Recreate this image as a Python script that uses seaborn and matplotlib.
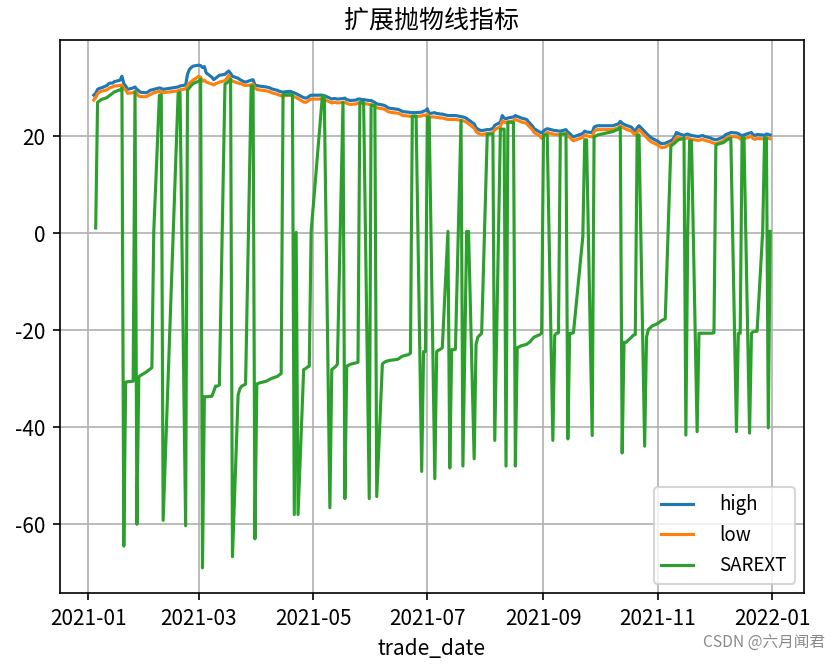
import numpy as np
import pandas as pd
import matplotlib
matplotlib.use("Agg")
import matplotlib.pyplot as plt
import seaborn as sns

nan = np.nan

# trading calendar (Shanghai exchange 2021)
holidays = ["2021-01-01", "2021-02-11", "2021-02-12", "2021-02-15", "2021-02-16",
            "2021-02-17", "2021-04-05", "2021-05-03", "2021-05-04", "2021-05-05",
            "2021-06-14", "2021-09-20", "2021-09-21", "2021-10-01", "2021-10-04",
            "2021-10-05", "2021-10-06", "2021-10-07"]
trade_date = pd.bdate_range("2021-01-04", "2021-12-31", freq="C", holidays=holidays)

high_jan = [28.5, 28.9, 29.7, 29.9, 30.0, 30.5, 30.9, 31.0, 31.0, 31.3, 31.6, 32.4, 30.9, 30.4, 29.7, 30.0, 30.2, 29.7, 29.4, 29.1]
low_jan = [27.5, 28.0, 28.8, 29.1, 29.3, 29.6, 29.9, 30.1, 30.2, 30.4, 30.5, 30.6, 29.8, 29.6, 28.9, 29.0, 29.3, 28.8, 28.3, 28.2]
sar_jan = [nan, 1.1, 27.0, 27.3, 27.6, 28.0, 28.3, 28.6, 28.9, 29.2, 29.6, 30.0, -64.5, -30.7, -30.6, -30.5, 29.2, -60.0, -29.6, -29.3]

high_feb = [29.0, 29.2, 29.5, 29.6, 29.7, 30.0, 29.9, 29.7, 30.2, 30.4, 30.6, 32.8, 33.8, 34.2, 34.5]
low_feb = [28.2, 28.4, 28.6, 28.8, 29.0, 29.3, 29.2, 29.0, 29.4, 29.6, 29.8, 30.5, 31.0, 31.3, 31.6]
sar_feb = [-28.6, -28.3, -28.0, -27.7, 0.4, 28.5, 28.6, -59.2, 28.9, 29.1, -60.3, 29.6, 30.0, 30.5, 30.9]

high_mar = [34.7, 34.6, 34.2, 34.4, 33.1, 32.2, 31.7, 32.0, 32.3, 32.6, 32.8, 33.2, 33.5, 33.0, 32.4, 32.0, 31.7, 31.5, 31.3, 31.2, 31.6, 31.7, 30.6]
low_mar = [32.4, 32.2, 31.4, 31.6, 31.2, 30.8, 30.6, 30.9, 31.0, 31.2, 31.5, 32.0, 32.6, 31.8, 31.4, 31.0, 30.9, 30.8, 30.6, 30.5, 30.6, 30.8, 30.0]
sar_mar = [31.4, 31.8, -69.0, -33.7, -33.7, -33.6, -32.6, -31.5, -31.5, -31.3, 30.8, 31.0, 31.4, 31.8, -66.7, -33.4, -32.0, -31.5, -31.3, -31.1, 30.4, 30.4, -63.0]

high_apr = [30.5, 30.4, 30.2, 30.1, 30.0, 29.8, 29.5, 29.3, 29.2, 29.1, 29.2, 29.3, 29.1, 29.0, 28.8, 28.6, 28.0, 27.9, 28.0, 28.3, 28.5]
low_apr = [29.7, 29.6, 29.4, 29.3, 29.2, 29.0, 28.7, 28.5, 28.4, 28.3, 28.4, 28.5, 28.3, 28.2, 28.0, 27.8, 27.1, 27.0, 27.2, 27.5, 27.7]
sar_apr = [-31.1, -30.9, -30.5, -30.3, -30.1, -29.9, -29.5, -29.2, -28.9, 28.6, 28.6, 28.6, 28.6, -58.0, 0.2, -58.0, -28.1, -27.9, -27.6, -27.4, 0.4]

high_may = [28.5, 28.4, 27.9, 27.7, 27.8, 27.8, 27.7, 27.8, 27.9, 27.6, 27.5, 27.4, 27.5, 27.7, 27.7, 27.6, 27.6, 27.4]
low_may = [27.7, 27.6, 27.1, 26.9, 27.0, 27.0, 26.9, 27.0, 27.1, 26.8, 26.7, 26.6, 26.7, 26.9, 26.9, 26.8, 26.8, 26.6]
sar_may = [28.4, 28.4, -56.6, -28.1, -27.8, -27.5, -27.0, 27.0, -54.7, -27.4, -27.2, -27.0, -26.7, -26.6, 27.0, 27.0, 27.0, -54.7]

high_jun = [27.4, 27.2, 27.0, 26.7, 26.5, 26.4, 26.2, 25.9, 25.8, 25.6, 25.5, 25.3, 25.1, 25.0, 24.9, 24.9, 24.9, 24.9, 25.0, 25.2, 25.3]
low_jun = [26.6, 26.4, 26.2, 25.9, 25.7, 25.6, 25.4, 25.1, 25.0, 24.8, 24.7, 24.5, 24.3, 24.2, 24.1, 24.1, 24.1, 24.1, 24.2, 24.4, 24.3]
sar_jun = [26.4, 26.4, 26.4, -54.3, -27.0, -26.6, -26.4, -26.3, -26.2, -26.0, -25.8, -25.5, -25.3, -25.0, -24.7, 24.2, 24.2, 24.2, -49.1, -24.4, -24.4]

high_jul = [25.7, 24.7, 24.9, 24.7, 24.7, 24.6, 24.6, 24.3, 24.3, 24.3, 24.3, 24.3, 24.1, 24.0, 23.9, 23.7, 23.4, 22.6, 21.8, 21.5, 21.3, 21.2]
low_jul = [24.6, 24.0, 24.0, 23.9, 23.9, 23.8, 23.8, 23.5, 23.5, 23.5, 23.5, 23.5, 23.3, 23.2, 23.1, 22.9, 22.6, 21.7, 21.0, 20.7, 20.5, 20.4]
sar_jul = [24.0, 24.0, -50.6, -24.4, -24.1, -23.9, -23.6, 0.4, -48.4, -24.0, -24.0, -23.9, 23.3, -48.0, -23.2, 0.4, 0.4, -46.5, -22.9, -21.4, -21.0, -20.6]

high_aug = [21.4, 21.4, 21.5, 21.6, 22.3, 22.9, 24.3, 23.8, 23.6, 23.8, 24.0, 24.3, 24.1, 24.0, 23.8, 23.5, 23.0, 22.6, 22.2, 21.6, 20.9, 20.7]
low_aug = [20.6, 20.6, 20.7, 20.8, 21.4, 22.0, 23.2, 23.0, 22.8, 23.0, 23.2, 23.5, 23.3, 23.2, 23.0, 22.7, 22.2, 21.8, 21.4, 20.8, 20.1, 19.6]
sar_aug = [20.5, 20.5, 20.5, 20.5, -42.7, 21.5, 21.5, 21.5, -48.0, 22.9, 22.9, -48.0, -23.6, -23.4, -23.2, -22.9, -22.6, -22.3, -21.8, -21.4, -20.9, -20.6]

high_sep = [21.1, 21.4, 21.6, 21.3, 21.2, 21.2, 21.1, 21.1, 21.4, 20.9, 20.6, 20.2, 19.9, 20.6, 21.1, 20.9, 20.8, 21.9, 22.1, 22.2]
low_sep = [20.2, 20.6, 20.8, 20.5, 20.4, 20.4, 20.3, 20.3, 20.6, 20.1, 19.8, 19.4, 19.1, 19.8, 20.3, 20.1, 19.9, 21.0, 21.3, 21.4]
sar_sep = [20.3, 20.3, 20.3, -42.7, -21.0, -20.6, -20.5, 20.5, 20.5, -42.4, -20.6, -20.6, -20.5, -0.7, 19.3, 19.3, -41.7, 19.9, 20.1, 20.3]

high_oct = [22.2, 22.6, 23.1, 22.7, 22.5, 22.3, 21.9, 21.4, 21.1, 21.8, 22.2, 21.0, 20.6, 20.2, 19.9, 19.6]
low_oct = [21.4, 21.8, 22.2, 21.9, 21.7, 21.5, 21.1, 20.6, 20.3, 20.9, 21.4, 20.2, 19.8, 19.4, 19.0, 18.8]
sar_oct = [21.0, 21.5, 21.9, -45.3, -22.5, -22.5, -21.4, -21.0, -20.9, 20.3, 20.3, -43.9, -21.4, -19.8, -19.5, -19.1]

high_nov = [19.0, 18.7, 18.5, 18.5, 18.6, 19.1, 19.4, 20.0, 20.8, 20.6, 20.2, 20.4, 20.5, 20.3, 20.2, 20.0, 20.0, 20.1, 20.2, 20.0, 19.7, 19.5]
low_nov = [18.2, 17.9, 17.7, 17.7, 17.8, 18.5, 18.6, 19.2, 19.9, 19.8, 19.4, 19.6, 19.7, 19.5, 19.4, 19.2, 19.2, 19.3, 19.4, 19.2, 18.9, 18.7]
sar_nov = [-18.6, -18.3, -18.0, -17.8, -17.6, 18.0, 18.3, 18.6, 19.0, 19.3, 19.6, -41.6, 0.4, 19.1, 19.1, -40.9, -20.6, -20.6, -20.6, -20.6, -20.6, -20.6]

high_dec = [19.4, 19.3, 19.4, 19.9, 20.3, 20.5, 20.6, 20.8, 20.7, 20.6, 20.3, 20.2, 20.3, 20.7, 20.8, 20.3, 20.2, 20.4, 20.3, 20.2, 20.5, 20.4, 20.3]
low_dec = [18.6, 18.5, 18.6, 19.1, 19.5, 19.7, 19.8, 20.0, 19.9, 19.8, 19.5, 19.4, 19.5, 19.9, 20.0, 19.5, 19.4, 19.6, 19.5, 19.4, 19.7, 19.6, 19.5]
sar_dec = [-20.5, 18.2, 18.4, 18.7, 19.0, 19.3, 19.5, 19.6, -40.9, -20.6, -20.6, 19.8, 19.8, -41.2, -20.6, -20.3, -20.2, -20.2, 0.4, 19.7, 19.7, -40.1, 0.4]

high = high_jan + high_feb + high_mar + high_apr + high_may + high_jun + high_jul + high_aug + high_sep + high_oct + high_nov + high_dec
low = low_jan + low_feb + low_mar + low_apr + low_may + low_jun + low_jul + low_aug + low_sep + low_oct + low_nov + low_dec
sarext = sar_jan + sar_feb + sar_mar + sar_apr + sar_may + sar_jun + sar_jul + sar_aug + sar_sep + sar_oct + sar_nov + sar_dec

df = pd.DataFrame({"trade_date": trade_date, "high": high, "low": low, "SAREXT": sarext})

plt.rcParams["font.family"] = ["Noto Sans CJK SC", "DejaVu Sans"]
plt.rcParams["axes.unicode_minus"] = False

fig = plt.figure(figsize=(5.6, 665 / 150), dpi=150)
ax = fig.add_axes([60 / 840, 1 - 593 / 665, 744 / 840, 553 / 665])

colors = {"high": "#1f77b4", "low": "#ff7f0e", "SAREXT": "#2ca02c"}
for col in ["high", "low", "SAREXT"]:
    sns.lineplot(data=df, x="trade_date", y=col, ax=ax, color=colors[col],
                 linewidth=1.5, label=col)

ax.grid(True, color="#b0b0b0", linewidth=0.8)
ax.set_title("扩展抛物线指标", fontsize=12)
ax.set_xlabel("trade_date", fontsize=10)
ax.set_ylabel("")
ax.legend(loc="lower right", fontsize=9, handlelength=1.7, handletextpad=1.4)

fig.text(0.982, 0.022, "CSDN @六月闻君", ha="right", va="bottom",
         color="#8a8a8a", fontsize=7.5)

fig.savefig("out.png", dpi=150)
